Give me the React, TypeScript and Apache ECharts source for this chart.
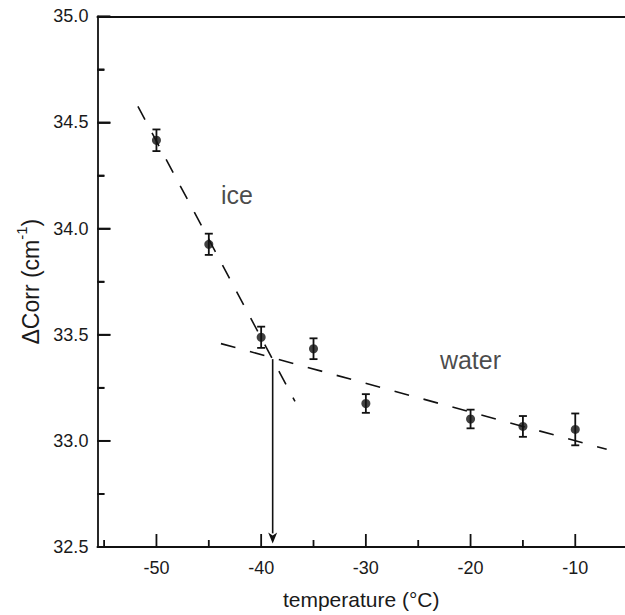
import React, { useEffect, useRef } from "react";
import * as echarts from "echarts";

// Measured data (temperature °C, ΔCorr cm⁻¹, error)
const temps = [-50, -45, -40, -35, -30, -20, -15, -10];
const corr = [34.416, 33.926, 33.488, 33.434, 33.176, 33.103, 33.068, 33.054];
const errs = [0.051, 0.05, 0.05, 0.049, 0.044, 0.044, 0.049, 0.075];

// Linear fit lines (endpoints)
const iceFit = [[-51.77, 34.576], [-36.77, 33.186]];
const waterFit = [[-43.84, 33.458], [-7.0, 32.96]];

// Vertical arrow: x, from y, to y
const arrow = [[-38.9, 33.385, 32.517]];

// Annotations
const notes = [
  { text: "ice", x: -42.31, y: 34.158 },
  { text: "water", x: -20.01, y: 33.381 },
];

// Axis ticks
const xMajor = [-50, -40, -30, -20, -10];
const xMinor = [-55, -45, -35, -25, -15];
const yMajor = [33.0, 33.5, 34.0, 34.5, 35.0];
const yMinor = [32.75, 33.25, 33.75, 34.25, 34.75];
const xMin = -55.64;
const xMax = -5.25;
const yMin = 32.5;
const yMax = 35;

const FONT = "'Liberation Sans', Arial, Helvetica, sans-serif";
const INK = "#111";
const TXT = "#1a1a1a";
const MAJOR_LEN = 13;
const MINOR_LEN = 7;
const LW = 1.8;

function tickSeries(points: number[][], horiz: boolean, len: number) {
  return {
    type: "custom",
    data: points,
    encode: { x: 0, y: 1 },
    silent: true,
    clip: false,
    z: 6,
    renderItem: (params: any, api: any) => {
      const p = api.coord([api.value(0), api.value(1)]);
      const shape = horiz
        ? { x1: p[0], y1: p[1], x2: p[0] + len, y2: p[1] }
        : { x1: p[0], y1: p[1], x2: p[0], y2: p[1] - len };
      return { type: "line", shape, style: { stroke: INK, lineWidth: LW } };
    },
  };
}

export default function App() {
  const ref = useRef<HTMLDivElement>(null);
  useEffect(() => {
    if (!ref.current) return;
    const chart = echarts.init(ref.current, null, { renderer: "svg" });
    const errData = temps.map((t, i) => [t, corr[i], errs[i]]);
    const ptData = temps.map((t, i) => [t, corr[i]]);
    const lineStyleDash = { color: INK, width: 1.6, type: [15, 15] as any };
    chart.setOption({
      animation: false,
      backgroundColor: "#fff",
      textStyle: { fontFamily: FONT },
      grid: { left: 97.4, top: 16.3, right: 0, bottom: 62.1 },
      xAxis: [
        {
          type: "value",
          min: xMin,
          max: xMax,
          position: "bottom",
          axisLine: { show: true, lineStyle: { color: INK, width: LW } },
          axisTick: { show: false },
          axisLabel: { show: true, customValues: xMajor, fontSize: 18, color: TXT, margin: 12, fontFamily: FONT },
          splitLine: { show: false },
          name: "temperature (°C)",
          nameLocation: "middle",
          nameGap: 42,
          nameTextStyle: { fontSize: 21, color: TXT, fontFamily: FONT },
        },
        {
          type: "value",
          min: xMin,
          max: xMax,
          position: "top",
          axisLine: { show: true, lineStyle: { color: INK, width: LW } },
          axisTick: { show: false },
          axisLabel: { show: false },
          splitLine: { show: false },
        },
      ],
      yAxis: {
        type: "value",
        min: yMin,
        max: yMax,
        interval: 0.5,
        axisLine: { show: true, lineStyle: { color: INK, width: LW } },
        axisTick: { show: true, inside: true, length: MAJOR_LEN, lineStyle: { color: INK, width: LW } },
        minorTick: { show: true, splitNumber: 2, length: MINOR_LEN, lineStyle: { color: INK, width: LW } },
        axisLabel: { fontSize: 18, color: TXT, margin: 9, formatter: (v: number) => v.toFixed(1), fontFamily: FONT },
        splitLine: { show: false },
        minorSplitLine: { show: false },
        name: "{a|ΔCorr (cm}{b|-1}{a|)}",
        nameLocation: "middle",
        nameGap: 28,
        nameTextStyle: {
          rich: {
            a: { fontSize: 23, color: TXT, fontFamily: FONT, lineHeight: 28, verticalAlign: "bottom" },
            b: { fontSize: 15, color: TXT, fontFamily: FONT, verticalAlign: "top", lineHeight: 28 },
          },
        },
      },
      series: [
        tickSeries(xMajor.map((v) => [v, yMin]), false, MAJOR_LEN),
        tickSeries(xMinor.map((v) => [v, yMin]), false, MINOR_LEN),
        tickSeries(yMajor.map((v) => [xMin, v]), true, MAJOR_LEN),
        tickSeries(yMinor.map((v) => [xMin, v]), true, MINOR_LEN),
        {
          type: "line",
          data: iceFit,
          symbol: "none",
          lineStyle: lineStyleDash,
          silent: true,
          z: 1,
        },
        {
          type: "line",
          data: waterFit,
          symbol: "none",
          lineStyle: lineStyleDash,
          silent: true,
          z: 1,
        },
        {
          type: "custom",
          data: errData,
          encode: { x: 0, y: 1 },
          z: 3,
          renderItem: (params: any, api: any) => {
            const x = api.value(0);
            const y = api.value(1);
            const e = api.value(2);
            const top = api.coord([x, y + e]);
            const bot = api.coord([x, y - e]);
            const w = 4;
            const st = { stroke: INK, lineWidth: 1.8 };
            return {
              type: "group",
              children: [
                { type: "line", shape: { x1: top[0], y1: top[1], x2: bot[0], y2: bot[1] }, style: st },
                { type: "line", shape: { x1: top[0] - w, y1: top[1], x2: top[0] + w, y2: top[1] }, style: st },
                { type: "line", shape: { x1: bot[0] - w, y1: bot[1], x2: bot[0] + w, y2: bot[1] }, style: st },
              ],
            };
          },
        },
        {
          type: "scatter",
          data: ptData,
          symbol: "circle",
          symbolSize: 9,
          itemStyle: { color: INK },
          z: 4,
        },
        {
          type: "custom",
          data: arrow,
          z: 3,
          renderItem: (params: any, api: any) => {
            const x = api.value(0);
            const y1 = api.value(1);
            const y2 = api.value(2);
            const a = api.coord([x, y1]);
            const b = api.coord([x, y2]);
            const hw = 4.5;
            const hl = 11;
            return {
              type: "group",
              children: [
                { type: "line", shape: { x1: a[0], y1: a[1], x2: b[0], y2: b[1] - hl + 1 }, style: { stroke: INK, lineWidth: 1.6 } },
                {
                  type: "polygon",
                  shape: { points: [[b[0], b[1]], [b[0] - hw, b[1] - hl], [b[0], b[1] - hl + 3], [b[0] + hw, b[1] - hl]] },
                  style: { fill: INK },
                },
              ],
            };
          },
        },
        {
          type: "scatter",
          data: notes.map((n) => ({ value: [n.x, n.y], name: n.text })),
          symbolSize: 0,
          silent: true,
          label: {
            show: true,
            position: "inside",
            formatter: (p: any) => p.name,
            fontSize: 25,
            color: TXT,
            fontFamily: FONT,
          },
          z: 5,
        },
      ],
    });
    return () => chart.dispose();
  }, []);
  return <div ref={ref} style={{ position: "fixed", left: 0, top: 0, width: 625, height: 615, background: "#fff" }} />;
}
